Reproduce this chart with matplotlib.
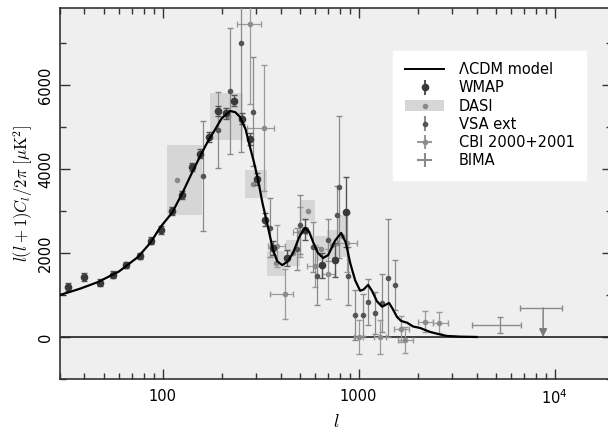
# CMB power spectrum compilation: WMAP, DASI, VSA ext, CBI, BIMA + LCDM model
import matplotlib
matplotlib.use("Agg")
import matplotlib.pyplot as plt
from matplotlib.lines import Line2D
from matplotlib.patches import Patch
from matplotlib.ticker import FixedLocator, LogLocator, MultipleLocator, NullFormatter

plt.rcParams["font.family"] = ["DejaVu Sans"]
plt.rcParams["mathtext.fontset"] = "cm"

# LCDM model curve
model_ell = [30, 38, 47, 60, 75, 87, 97, 112, 127, 141, 155, 170, 185, 200, 221, 235,
             248, 265, 279, 293, 307, 323, 341, 366, 385, 408, 435, 463, 500, 533,
             560, 586, 620, 659, 700, 760, 815, 860, 906, 960, 1018, 1060, 1118,
             1170, 1240, 1318, 1380, 1431, 1500, 1570, 1650, 1766, 1897, 2060,
             2318, 2600, 2826, 3300, 4000]
model_D = [1000, 1150, 1310, 1560, 1905, 2250, 2600, 2960, 3450, 3900, 4290, 4650,
           4930, 5200, 5380, 5350, 5240, 4950, 4530, 4150, 3740, 3200, 2720, 2070,
           1800, 1710, 1800, 2000, 2400, 2595, 2500, 2260, 2000, 1880, 1950, 2300,
           2476, 2250, 1760, 1350, 1100, 1130, 1240, 1100, 850, 720, 770, 810, 650,
           476, 380, 340, 250, 214, 119, 60, 24, 8, 0]

# WMAP
wmap_ell = [33, 40, 48, 56, 65, 77, 87, 98, 112, 126, 141, 155, 173, 192, 211, 232,
            255, 279, 303, 333, 366, 431, 533, 651, 759, 863]
wmap_D = [1190, 1430, 1290, 1480, 1710, 1930, 2290, 2540, 3000, 3380, 4050, 4360,
          4760, 5380, 5330, 5620, 5190, 4710, 3760, 2790, 2120, 1880, 2550, 1710,
          1830, 2980]
wmap_err = [90, 90, 80, 80, 80, 80, 80, 90, 90, 100, 100, 110, 110, 120, 130, 130,
            130, 140, 140, 150, 160, 180, 250, 300, 400, 830]

# DASI (band powers drawn as boxes)
dasi_ell = [118, 215, 290, 380, 465, 553, 641, 733, 820]
dasi_lo = [105, 175, 264, 340, 425, 510, 600, 690, 775]
dasi_hi = [159, 258, 341, 420, 505, 600, 690, 775, 870]
dasi_D = [3740, 5250, 3640, 1750, 2000, 3000, 2100, 2200, 2400]
dasi_err = [830, 560, 330, 300, 300, 250, 300, 350, 500]

# VSA ext
vsa_ell = [161, 192, 221, 251, 290, 353, 485, 502, 586, 614, 700, 776, 794, 884,
           959, 1054, 1118, 1213, 1318, 1413, 1535]
vsa_D = [3830, 4930, 5860, 7000, 5360, 2600, 2100, 2670, 2140, 1450, 2300, 2900,
         3570, 1450, 520, 520, 830, 570, 810, 1400, 1240]
vsa_err = [1300, 900, 1500, 2600, 1300, 700, 500, 700, 600, 700, 500, 700, 1700, 700,
           600, 500, 550, 500, 700, 1400, 600]

# CBI 2000+2001
cbi_ell = [279, 330, 384, 422, 505, 600, 700, 870, 1000, 1290, 1726, 1650, 2183, 2560]
cbi_lo = [240, 270, 345, 353, 465, 545, 650, 786, 950, 1200, 1580, 1510, 2000, 2400]
cbi_hi = [318, 371, 420, 463, 545, 650, 760, 982, 1050, 1380, 1900, 1800, 2400, 2865]
cbi_D = [7450, 4980, 2170, 1020, 2500, 1700, 1500, 2240, 0, 0, -70, 190, 357, 333]
cbi_err = [1900, 1500, 500, 600, 600, 500, 600, 700, 400, 400, 300, 300, 250, 250]

# BIMA
bima_ell = [5240]
bima_lo = [3800]
bima_hi = [6750]
bima_D = [290]
bima_err = [190]
# BIMA upper limit
lim_ell = 8730
lim_lo = 6670
lim_hi = 10900
lim_D = 690

fig = plt.figure(figsize=(6.08, 4.32), dpi=100)
ax = fig.add_axes([60 / 608, 53 / 432, 552 / 608, 371 / 432])
ax.set_facecolor("#efefef")

# DASI boxes
for e, lo, hi, d, s in zip(dasi_ell, dasi_lo, dasi_hi, dasi_D, dasi_err):
    ax.fill_between([lo, hi], d - s, d + s, color="#d6d6d6", lw=0, zorder=1)
ax.plot(dasi_ell, dasi_D, "o", ms=3, color="#8a8a8a", zorder=2)

# CBI
cbi_xerr = [[e - lo for e, lo in zip(cbi_ell, cbi_lo)],
            [hi - e for e, hi in zip(cbi_ell, cbi_hi)]]
ax.errorbar(cbi_ell, cbi_D, xerr=cbi_xerr, yerr=cbi_err, fmt="o", ms=3,
            color="#8c8c8c", ecolor="#9a9a9a", elinewidth=0.9, capsize=2, zorder=3)

# VSA ext
ax.errorbar(vsa_ell, vsa_D, yerr=vsa_err, fmt="o", ms=3, color="#555555",
            ecolor="#8a8a8a", elinewidth=0.9, capsize=2, zorder=4)

# BIMA
bima_xerr = [[bima_ell[0] - bima_lo[0]], [bima_hi[0] - bima_ell[0]]]
ax.errorbar(bima_ell, bima_D, xerr=bima_xerr, yerr=bima_err, fmt="none",
            ecolor="#8a8a8a", elinewidth=1.0, capsize=2.5, zorder=3)
ax.errorbar([lim_ell], [lim_D], xerr=[[lim_ell - lim_lo], [lim_hi - lim_ell]],
            fmt="none", ecolor="#8a8a8a", elinewidth=1.0, capsize=2.5, zorder=3)
ax.annotate("", xy=(lim_ell, 0), xytext=(lim_ell, lim_D),
            arrowprops=dict(arrowstyle="-|>", color="#7a7a7a", lw=1.0,
                            mutation_scale=12, shrinkA=0, shrinkB=0))

# WMAP
ax.errorbar(wmap_ell, wmap_D, yerr=wmap_err, fmt="o", ms=4.5, color="#3a3a3a",
            ecolor="#555555", elinewidth=1.0, capsize=2, zorder=5)

# model and zero line
ax.plot(model_ell, model_D, color="black", lw=1.6, zorder=6)
ax.axhline(0, color="#222222", lw=1.2, zorder=2)

ax.set_xscale("log")
ax.set_xlim(30, 19600)
ax.set_ylim(-1000, 7830)

ax.xaxis.set_major_locator(FixedLocator([100, 1000, 10000]))
ax.set_xticklabels(["100", "1000", r"$\mathregular{10^4}$"])
ax.xaxis.set_minor_locator(LogLocator(subs=range(2, 10)))
ax.xaxis.set_minor_formatter(NullFormatter())
ax.yaxis.set_major_locator(MultipleLocator(2000))
ax.yaxis.set_minor_locator(MultipleLocator(1000))

ax.tick_params(which="both", direction="in", top=True, right=True,
               labelsize=10.5, color="#333333")
ax.tick_params(which="major", length=7, width=1.0)
ax.tick_params(which="minor", length=4, width=1.0)
ax.tick_params(axis="y", pad=5)
ax.tick_params(axis="x", pad=7)
for lab in ax.get_yticklabels():
    lab.set_rotation(90)
    lab.set_va("center")
for sp in ax.spines.values():
    sp.set_linewidth(1.2)
    sp.set_color("#333333")

ax.set_ylabel(r"$l(l+1)C_l/2\pi\ [\mu{\rm K}^2]$", fontsize=12, labelpad=2)
ax.set_xlabel(r"$l$", fontsize=13, labelpad=4)

# legend
h_model = Line2D([], [], color="black", lw=1.4)
h_wmap = ax.errorbar([], [], yerr=[], fmt="o", ms=4.5, color="#3a3a3a",
                     ecolor="#555555", capsize=2)
h_dasi = (Patch(facecolor="#d6d6d6", edgecolor="none"),
          Line2D([], [], marker="o", ms=3, ls="none", color="#8a8a8a"))
h_vsa = ax.errorbar([], [], yerr=[], fmt="o", ms=3, color="#555555",
                    ecolor="#8a8a8a", capsize=2)
h_cbi = ax.errorbar([], [], xerr=[], yerr=[], fmt="o", ms=3, color="#8c8c8c",
                    ecolor="#9a9a9a", capsize=2)
h_bima = ax.errorbar([], [], xerr=[], yerr=[], fmt="none", ecolor="#8a8a8a",
                     capsize=2)
leg = ax.legend([h_model, h_wmap, h_dasi, h_vsa, h_cbi, h_bima],
                ["\u039bCDM model", "WMAP", "DASI", "VSA ext", "CBI 2000+2001", "BIMA"],
                loc="upper right", bbox_to_anchor=(0.967, 0.905), fontsize=10.5,
                frameon=True, fancybox=False, framealpha=1, edgecolor="white",
                labelspacing=0.22, handlelength=2.7, borderpad=0.8, handletextpad=1.0)
leg.get_frame().set_facecolor("white")

fig.savefig("out.png", dpi=100)
